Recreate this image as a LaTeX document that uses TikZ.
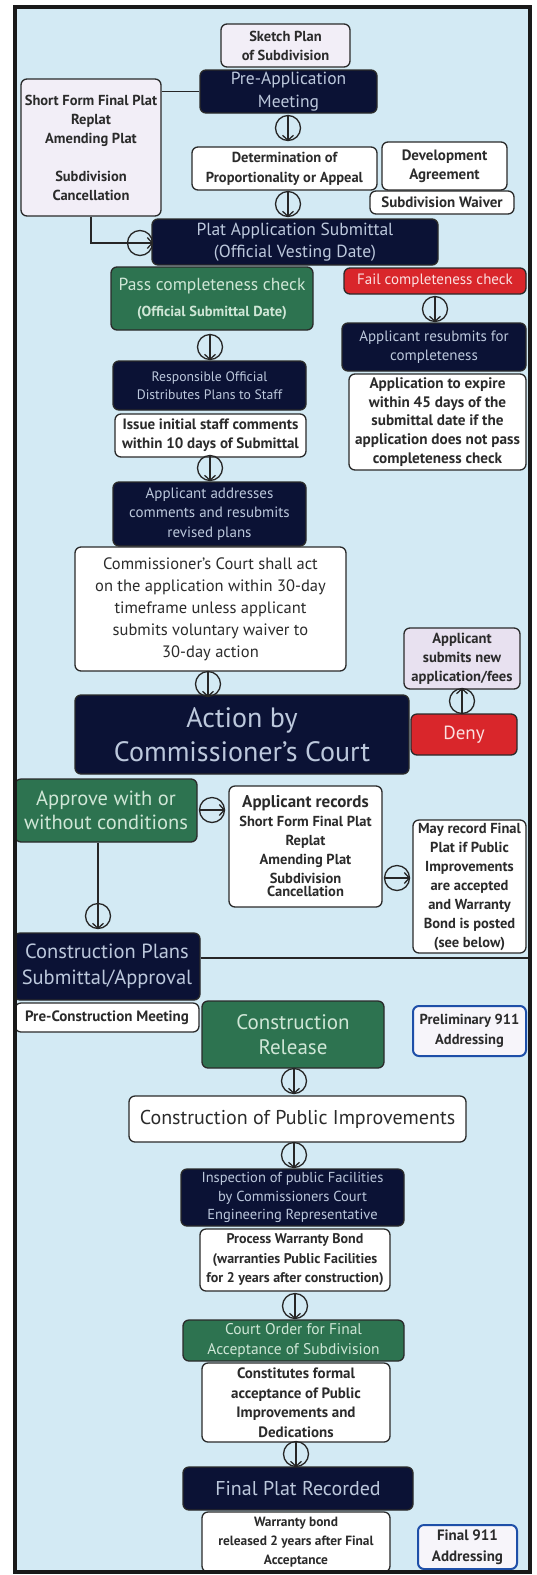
\documentclass[tikz,border=0pt]{standalone}
\usepackage{fontspec}
\setmainfont{PT Sans}
\usetikzlibrary{arrows.meta}
\definecolor{bgblue}{HTML}{D3EAF4}
\definecolor{navyc}{HTML}{0B1235}
\definecolor{navytxt}{HTML}{BCC8DC}
\definecolor{greenc}{HTML}{2D7350}
\definecolor{greentxt}{HTML}{CFE6D6}
\definecolor{redc}{HTML}{D9262B}
\definecolor{redtxt}{HTML}{FBE0E0}
\definecolor{lav}{HTML}{F2EEF7}
\definecolor{lavdeep}{HTML}{E8E1F0}
\definecolor{darktxt}{HTML}{2B2B2B}
\definecolor{blueedge}{HTML}{1E4FA8}
\definecolor{edgec}{HTML}{2A2A2A}
\newcommand\fsz[2]{\fontsize{#1}{#2}\selectfont}
\begin{document}
\begin{tikzpicture}[x=1pt,y=-1pt,
 box/.style={rounded corners=6pt, draw=edgec, line width=1.3pt, inner sep=0pt, align=center},
 navybox/.style={box, fill=navyc, text=navytxt},
 greenbox/.style={box, fill=greenc, text=greentxt},
 redbox/.style={box, fill=redc, text=redtxt},
 whitebox/.style={box, fill=white, text=darktxt},
 lavbox/.style={box, fill=lav, text=darktxt},
 addrbox/.style={box, fill=lav!60!white, draw=blueedge, line width=2pt, text=darktxt},
 bf/.style 2 args={font=\bfseries\fsz{#1}{#2}},
 rg/.style 2 args={font=\fsz{#1}{#2}},
 ring/.style={circle, draw=black!85, line width=1.3pt, minimum size=25pt, inner sep=0pt},
 flow/.style={draw=black!85, line width=1.3pt, -{Straight Barb[length=5pt,width=11pt,line width=1.3pt]}},
 link/.style={draw=black!85, line width=1.3pt}
]
\useasboundingbox (0,0) rectangle (537,1575);
\fill[bgblue] (15,7) rectangle (530,1572);

% top section
\node[lavbox, bf={14.5}{19}, minimum width=129, minimum height=43] (sketch) at (285.5,45.5) {Sketch Plan\\of Subdivision};
\node[navybox, rg={17.5}{23}, minimum width=177, minimum height=43] (preapp) at (288.5,91.5) {Pre-Application\\Meeting};
\node[lavbox, bf={14.5}{19}, minimum width=140, minimum height=137] (shortform) at (91,147.5) {Short Form Final Plat\\Replat\\Amending Plat\\[19pt]Subdivision\\Cancellation};
\node[whitebox, bf={14.5}{20}, minimum width=185, minimum height=43] (determ) at (284.5,168.5) {Determination of\\Proportionality or Appeal};
\node[whitebox, bf={15}{19}, minimum width=125, minimum height=48] (devagr) at (444.5,166) {Development\\Agreement};
\node[whitebox, bf={15}{16}, minimum width=144, minimum height=23] (subwaiver) at (442,202.5) {Subdivision Waiver};
\node[navybox, rg={17.5}{22}, minimum width=286, minimum height=46] (platapp) at (295,242) {Plat Application Submittal\\(Official Vesting Date)};

% completeness
\node[greenbox, rg={14.5}{26}, minimum width=202, minimum height=63] (pass) at (212,298.5) {{\fsz{17.5}{26}Pass completeness check}\\{\bfseries(Official Submittal Date)}};
\node[redbox, rg={15}{16}, minimum width=182, minimum height=26] (fail) at (435,281) {Fail completeness check};
\node[navybox, rg={15}{19}, minimum width=184, minimum height=48] (resub) at (434,347) {Applicant resubmits for\\completeness};
\node[whitebox, bf={15.2}{18.8}, minimum width=177, minimum height=96] (expire) at (437.5,422) {Application to expire\\within 45 days of the\\submittal date if the\\application does not pass\\completeness check};
\node[navybox, rg={13.7}{17.5}, minimum width=193, minimum height=49] (respons) at (209.5,385.5) {Responsible Official\\Distributes Plans to Staff};
\node[whitebox, bf={15}{19}, minimum width=191, minimum height=43] (issue) at (210.5,435.5) {Issue initial staff comments\\within 10 days of Submittal};
\node[navybox, rg={15}{19.5}, minimum width=193, minimum height=64] (addresses) at (209.5,514) {Applicant addresses\\comments and resubmits\\revised plans};
\node[whitebox, rg={16.5}{22}, minimum width=271, minimum height=124] (commact) at (210.5,609) {Commissioner's Court shall act\\on the application within 30-day\\timeframe unless applicant\\submits voluntary waiver to\\30-day action};
\node[box, fill=lavdeep, text=darktxt, bf={14.6}{18.8}, minimum width=116, minimum height=61] (newapp) at (462,658.5) {Applicant\\submits new\\application/fees};

% action
\node[navybox, rg={28}{34}, minimum width=334, minimum height=79] (action) at (242,734.5) {Action by\\Commissioner's Court};
\node[redbox, rg={19}{20}, minimum width=106, minimum height=41] (deny) at (464,734.5) {Deny};
\node[greenbox, rg={20.5}{24}, minimum width=182, minimum height=63] (approve) at (106,810.5) {Approve with or\\without conditions};
\node[whitebox, bf={14.5}{19}, minimum width=153, minimum height=121] (records) at (305.5,846.5) {{\fsz{17}{19}Applicant records}\\Short Form Final Plat\\Replat\\Amending Plat\\Subdivision\\[-6pt]Cancellation};
\node[whitebox, bf={14.5}{19}, minimum width=113, minimum height=133] (mayrec) at (469.5,886.5) {May record Final\\Plat if Public\\Improvements\\are accepted\\and Warranty\\Bond is posted\\(see below)};

% construction
\node[navybox, rg={20.5}{26}, minimum width=186, minimum height=67] (consplans) at (107,966.5) {Construction Plans\\Submittal/Approval};
\coordinate (frameR) at (530,958);
\node[whitebox, bf={15}{16}, minimum width=184, minimum height=29] (precons) at (107,1017.5) {Pre-Construction Meeting};
\node[greenbox, rg={21}{25}, minimum width=182, minimum height=67] (consrel) at (293,1034.5) {Construction\\Release};
\node[addrbox, bf={14.5}{20.5}, minimum width=113, minimum height=50] (prelim) at (469.5,1031) {Preliminary 911\\Addressing};
\node[whitebox, rg={20}{22}, minimum width=337, minimum height=46] (conspub) at (297.5,1119) {Construction of Public Improvements};
\node[navybox, rg={14.5}{18.5}, minimum width=223, minimum height=57] (inspect) at (292.5,1197.5) {Inspection of public Facilities\\by Commissioners Court\\Engineering Representative};
\node[whitebox, bf={14}{19.5}, minimum width=190, minimum height=62] (process) at (295,1260) {Process Warranty Bond\\(warranties Public Facilities\\for 2 years after construction)};
\node[greenbox, rg={15.5}{20.5}, minimum width=221, minimum height=41] (courtorder) at (293.5,1340.5) {Court Order for Final\\Acceptance of Subdivision};
\node[whitebox, bf={15}{19.5}, minimum width=188, minimum height=79] (constitutes) at (296,1402.5) {Constitutes formal\\acceptance of Public\\Improvements and\\Dedications};
\node[navybox, rg={20}{22}, minimum width=230, minimum height=43] (finalplat) at (298,1488.5) {Final Plat Recorded};
\node[whitebox, bf={13.4}{19}, minimum width=188, minimum height=60] (warranty) at (296,1542) {Warranty bond\\released 2 years after Final\\Acceptance};
\node[addrbox, bf={15}{20.5}, minimum width=99, minimum height=44] (final911) at (467.5,1547) {Final 911\\Addressing};

% ring arrows
\node[ring] (r1) at (288,128) {};
\node[ring] (r2) at (288,204) {};
\node[ring] (r3) at (140,243) {};
\node[ring] (r4) at (435,309) {};
\node[ring] (r5) at (210,347) {};
\node[ring] (r6) at (210,468) {};
\node[ring] (r7) at (208,684) {};
\node[ring] (r8) at (462,701) {};
\node[ring] (r9) at (212,810) {};
\node[ring] (r10) at (397,878) {};
\node[ring] (r11) at (98,916) {};
\node[ring] (r12) at (294,1081) {};
\node[ring] (r13) at (294,1155) {};
\node[ring] (r14) at (295,1306) {};
\node[ring] (r15) at (296,1454) {};
\foreach \r in {r1,r2,r4,r5,r6,r7,r11,r12,r13,r14,r15}{\draw[flow] (\r.north) -- (\r.south);}
\draw[flow] (r8.south) -- (r8.north);
\foreach \r in {r3,r9,r10}{\draw[flow] (\r.west) -- (\r.east);}

% connectors
\draw[link] (shortform.east |- preapp.west) -- (preapp.west);
\draw[link] (shortform.south) |- (r3.west);
\draw[link] (approve.south -| r11) -- (r11.north);
\draw[link, line width=1.8pt] (consplans.east |- frameR) -- (frameR);

% frame
\draw[line width=4pt, black!90] (15,7) rectangle (530,1572);
\end{tikzpicture}
\end{document}
